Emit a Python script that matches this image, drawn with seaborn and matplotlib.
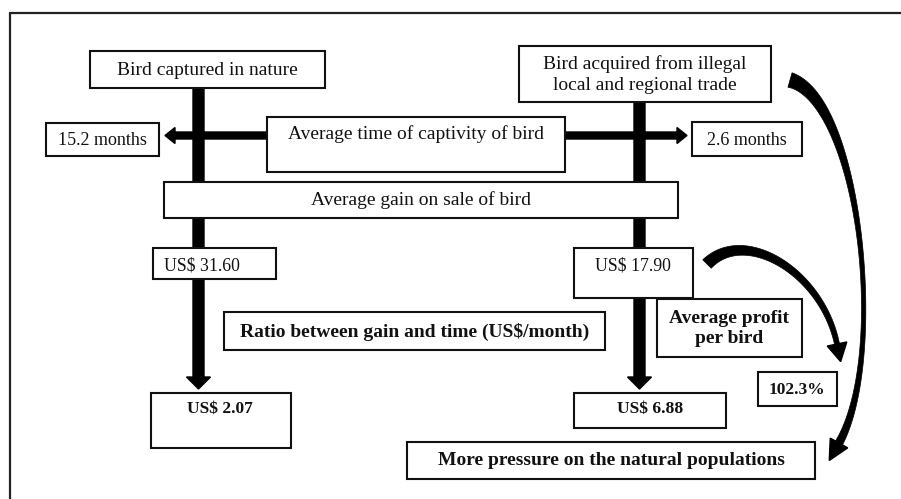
import matplotlib

matplotlib.use("Agg")
import matplotlib.pyplot as plt
import numpy as np
import seaborn as sns
from matplotlib.patches import Rectangle, Polygon

sns.set_theme(style="white")
plt.rcParams["font.family"] = ["Liberation Serif", "DejaVu Serif"]

# values shown in the diagram
sources = ["Bird captured in nature", "Bird acquired from illegal\nlocal and regional trade"]
captivity_months = [15.2, 2.6]
sale_gain_usd = [31.60, 17.90]
gain_per_month_usd = [2.07, 6.88]
profit_increase_pct = 102.3
time_label = "Average time of captivity of bird"
gain_label = "Average gain on sale of bird"
ratio_label = "Ratio between gain and time (US$/month)"
profit_label = "Average profit\nper bird"
pressure_label = "More pressure on the natural populations"

fig = plt.figure(figsize=(9.01, 4.99), dpi=100)
ax = fig.add_axes([0, 0, 1, 1])
ax.set_xlim(0, 901)
ax.set_ylim(499, 0)
ax.axis("off")

# outer frame (only top and left visible)
ax.plot([10, 901], [13, 13], color="#222", lw=1.6, zorder=1)
ax.plot([10, 10], [13, 499], color="#222", lw=1.6, zorder=1)


def box(x0, y0, x1, y1):
    ax.add_patch(Rectangle((x0, y0), x1 - x0, y1 - y0, facecolor="white",
                           edgecolor="#111", lw=1.5, zorder=3))


def label(x, y, s, size=14, bold=False):
    ax.text(x, y + 1.5, s, ha="center", va="center", fontsize=size,
            fontweight="bold" if bold else "normal", color="#111",
            linespacing=1.25, zorder=4)


def tapered(p, w0, wm, w1, head_len, head_w):
    t = np.linspace(0, 1, 120)[:, None]
    p = [np.array(q, dtype=float) for q in p]
    pts = (1 - t) ** 3 * p[0] + 3 * (1 - t) ** 2 * t * p[1] + 3 * (1 - t) * t ** 2 * p[2] + t ** 3 * p[3]
    d = 3 * (1 - t) ** 2 * (p[1] - p[0]) + 6 * (1 - t) * t * (p[2] - p[1]) + 3 * t ** 2 * (p[3] - p[2])
    d = d / np.linalg.norm(d, axis=1, keepdims=True)
    n = np.column_stack([-d[:, 1], d[:, 0]])
    tt = t[:, 0]
    w = w0 * (1 - tt) ** 2 + wm * 2 * tt * (1 - tt) + w1 * tt ** 2
    left = pts + n * (w[:, None] / 2)
    right = pts - n * (w[:, None] / 2)
    ax.add_patch(Polygon(np.vstack([left, right[::-1]]), closed=True,
                         facecolor="black", edgecolor="black", lw=0.5, zorder=2))
    end, dir_, nn = pts[-1], d[-1], n[-1]
    head = [end + nn * head_w / 2, end + dir_ * head_len, end - nn * head_w / 2]
    ax.add_patch(Polygon(head, closed=True, facecolor="black", edgecolor="black", zorder=2))


# vertical flow arrows
for xc, y_start in [(198.5, 88), (639.5, 102)]:
    ax.arrow(xc, y_start, 0, 389 - y_start, width=11, head_width=24, head_length=12,
             length_includes_head=True, color="black", zorder=2)

# horizontal arrows from the captivity box
ax.arrow(267, 135.5, 165 - 267, 0, width=7, head_width=16, head_length=10,
         length_includes_head=True, color="black", zorder=2)
ax.arrow(565, 135.5, 687 - 565, 0, width=7, head_width=16, head_length=10,
         length_includes_head=True, color="black", zorder=2)

# curved arrows
tapered([(707, 264), (745, 226), (822, 272), (837, 344)], 12, 7, 5, 18, 20)
tapered([(790, 80), (860, 100), (888, 355), (839, 443)], 15, -2, 8, 20, 20)

# boxes
box(90, 51, 325, 88)
label(207, 69, sources[0])
box(519, 46, 771, 102)
label(645, 73, sources[1])

box(46, 123, 159, 156)
label(102.5, 139, f"{captivity_months[0]} months", size=13)
box(267, 117, 565, 172)
label(416, 133, time_label)
box(692, 122, 802, 156)
label(747, 139, f"{captivity_months[1]} months", size=13)

box(164, 182, 678, 218)
label(421, 199, gain_label)

box(153, 248, 276, 279)
label(202, 264, f"US$ {sale_gain_usd[0]:.2f}", size=12.8)
box(574, 248, 693, 298)
label(633, 264, f"US$ {sale_gain_usd[1]:.2f}", size=12.8)

box(224, 312, 605, 350)
label(415, 330, ratio_label, size=14, bold=True)
box(657, 299, 802, 357)
label(729, 327, profit_label, size=14, bold=True)

box(758, 372, 837, 406)
label(797, 388, f"{profit_increase_pct}%", size=12.5, bold=True)

box(151, 393, 291, 448)
label(220, 408, f"US$ {gain_per_month_usd[0]:.2f}", size=12.5, bold=True)
box(574, 393, 726, 428)
label(650, 408, f"US$ {gain_per_month_usd[1]:.2f}", size=12.5, bold=True)

box(407, 442, 815, 479)
label(611, 459, pressure_label, size=14, bold=True)

fig.savefig("out.png", dpi=100, facecolor="white")
